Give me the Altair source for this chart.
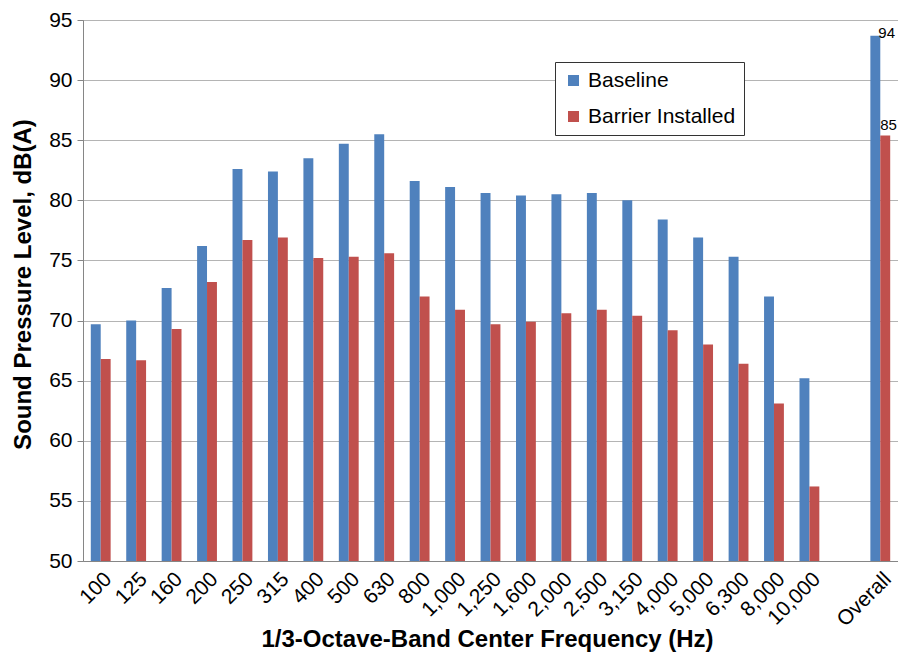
import altair as alt
import pandas as pd

bands = ["100", "125", "160", "200", "250", "315", "400", "500", "630", "800",
         "1,000", "1,250", "1,600", "2,000", "2,500", "3,150", "4,000", "5,000",
         "6,300", "8,000", "10,000", "Overall"]
baseline = [69.7, 70.0, 72.7, 76.2, 82.6, 82.4, 83.5, 84.7, 85.5, 81.6,
            81.1, 80.6, 80.4, 80.5, 80.6, 80.0, 78.4, 76.9, 75.3, 72.0, 65.2, 93.7]
barrier = [66.8, 66.7, 69.3, 73.2, 76.7, 76.9, 75.2, 75.3, 75.6, 72.0,
           70.9, 69.7, 69.9, 70.6, 70.9, 70.4, 69.2, 68.0, 66.4, 63.1, 56.2, 85.4]
series = ["Baseline", "Barrier Installed"]
colors = ["#4F81BD", "#C0504D"]
y_ticks = [50, 55, 60, 65, 70, 75, 80, 85, 90, 95]

x_domain = bands[:-1] + [" "] + [bands[-1]]

rows = []
for b, v1, v2 in zip(bands, baseline, barrier):
    rows.append({"band": b, "series": series[0], "value": v1})
    rows.append({"band": b, "series": series[1], "value": v2})
df = pd.DataFrame(rows)

FONT = "Liberation Sans, Arial, sans-serif"

x_enc = alt.X(
    "band:N",
    scale=alt.Scale(domain=x_domain, paddingInner=0.44, paddingOuter=0.22),
    axis=alt.Axis(
        title="1/3-Octave-Band Center Frequency (Hz)",
        labelAngle=-45, labelAlign="right", labelBaseline="top",
        labelFontSize=21, labelFont=FONT, labelColor="#000000",
        labelPadding=7, ticks=False, domainColor="#868686",
        titleFont=FONT, titleFontSize=24, titleFontWeight="bold",
        titleColor="#000000", titleX=404, titleY=85,
        titleBaseline="alphabetic", grid=False,
    ),
)
xoff = alt.XOffset("series:N", scale=alt.Scale(domain=series, paddingInner=0, paddingOuter=0))
y_scale = alt.Scale(domain=[50, 95], zero=False, nice=False)
y_enc = alt.Y(
    "value:Q",
    scale=y_scale,
    axis=alt.Axis(
        title="Sound Pressure Level, dB(A)",
        values=y_ticks, labelFontSize=21, labelFont=FONT, labelColor="#000000",
        tickSize=6, tickColor="#868686", domainColor="#868686",
        labelPadding=5, gridColor="#b4b4b4",
        titleFont=FONT, titleFontSize=24, titleFontWeight="bold",
        titleColor="#000000", titleX=-48, titleY=264,
    ),
)

bars = alt.Chart(df).mark_bar().encode(
    x=x_enc,
    xOffset=xoff,
    y=y_enc,
    y2=alt.datum(50),
    color=alt.Color(
        "series:N",
        scale=alt.Scale(domain=series, range=colors),
        legend=alt.Legend(
            title=None, orient="none", legendX=472, legendY=42,
            labelFont=FONT, labelFontSize=21, labelColor="#000000",
            symbolType="square", symbolSize=121, symbolStrokeWidth=0,
            labelOffset=4, rowPadding=14, padding=8,
            strokeColor="#333333", fillColor="#ffffff",
        ),
    ),
)

base_lbl = alt.Chart(df).transform_filter(
    "datum.band == 'Overall' && datum.series == 'Baseline'"
).mark_text(align="left", baseline="alphabetic", dx=3, dy=2,
            fontSize=15, font=FONT, color="#000000").encode(
    x=alt.X("band:N", scale=alt.Scale(domain=x_domain)),
    xOffset=xoff,
    y=alt.Y("value:Q", scale=y_scale),
    text=alt.Text("value:Q", format=".0f"),
)
bar_lbl = alt.Chart(df).transform_filter(
    "datum.band == 'Overall' && datum.series == 'Barrier Installed'"
).mark_text(align="left", baseline="alphabetic", dx=-5, dy=-5,
            fontSize=15, font=FONT, color="#000000").encode(
    x=alt.X("band:N", scale=alt.Scale(domain=x_domain)),
    xOffset=xoff,
    y=alt.Y("value:Q", scale=y_scale),
    text=alt.Text("value:Q", format=".0f"),
)

chart = alt.layer(bars, base_lbl, bar_lbl).properties(
    width=815, height=541,
    padding={"left": 75, "top": 12, "right": 0, "bottom": 91},
    autosize=alt.AutoSizeParams(type="none"),
    background="#ffffff",
).configure_view(stroke="#a0a0a0")

chart.save("out.html", embed_options={"renderer": "svg", "actions": False})
